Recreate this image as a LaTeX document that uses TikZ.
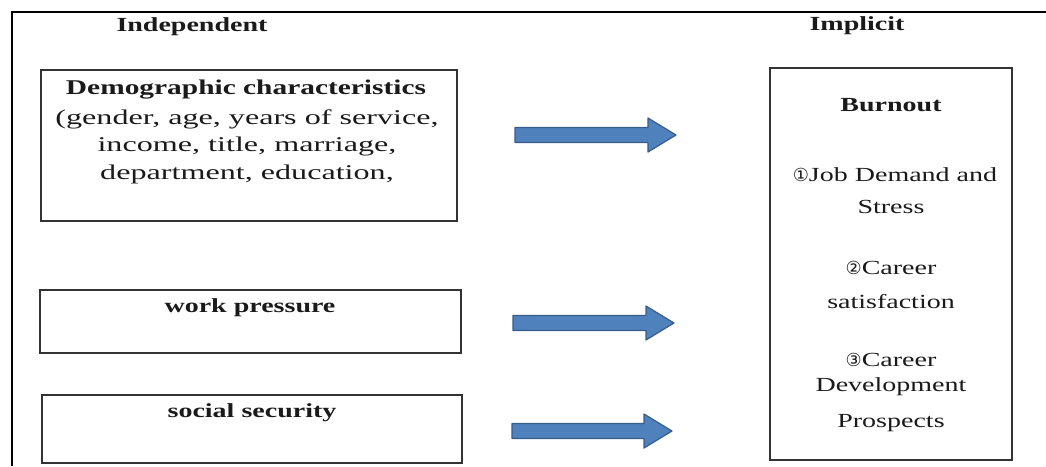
\documentclass[tikz,border=0pt]{standalone}
\usepackage{fontspec}
\setmainfont{Liberation Serif}[FakeStretch=1.4]
\newfontfamily\demofont{Liberation Serif}[FakeStretch=1.53]
\newfontfamily\circfont{DejaVu Sans}
\definecolor{arrowfill}{HTML}{4F81BD}
\definecolor{arrowline}{HTML}{385D8A}
\definecolor{boxline}{HTML}{333333}
\definecolor{ink}{HTML}{1A1A1A}
\tikzset{
  box/.style={draw=boxline, line width=1.5pt, rectangle, inner sep=0pt},
  head/.style={font=\fontsize{20}{24}\selectfont\bfseries, text=ink, inner sep=0pt},
  bodytext/.style={font=\fontsize{20}{24}\selectfont, text=ink, inner sep=0pt},
  demotext/.style={font=\demofont\fontsize{21}{27.5}\selectfont, text=ink, inner sep=0pt, align=center},
  barrow/.style={fill=arrowfill, draw=arrowline, line width=1.2pt, line join=round},
  frameline/.style={draw=black, line width=1.8pt}
}
\newcommand\blockarrow[4]{% name, x1, x2, y
  \coordinate (#1s) at (#2,#4);
  \coordinate (#1e) at (#3,#4);
  \draw[barrow] (#2,#4-7.5) -- (#3-28,#4-7.5) -- (#3-28,#4-17) -- (#1e) -- (#3-28,#4+17) -- (#3-28,#4+7.5) -- (#2,#4+7.5) -- cycle;}
\begin{document}
\begin{tikzpicture}[x=1pt,y=-1pt]
\useasboundingbox (0,0) rectangle (1046,466);
% outer frame (cropped)
\draw[frameline] (12,466) -- (12,12) -- (1046,12);
% headings
\node[head] (indep) at (192,27) {Independent};
\node[head] (impl) at (857,26) {Implicit};
% demographic box
\node[box, minimum width=416pt, minimum height=151pt] (demo) at (249,145.5) {};
\node[head, font=\fontsize{21}{24}\selectfont\bfseries] (demotitle) at (246,90) {Demographic characteristics};
\node[demotext] (demobody) at (247,146.5) {(gender, age, years of service,\\ income, title, marriage,\\ department, education,};
% work pressure
\node[box, minimum width=421pt, minimum height=63pt] (work) at (250.5,321.5) {};
\node[head] (worktext) at (250,308) {work pressure};
% social security
\node[box, minimum width=420pt, minimum height=68pt] (social) at (252,429) {};
\node[head] (socialtext) at (252,413) {social security};
% burnout box
\node[box, minimum width=242pt, minimum height=392pt] (burn) at (891,264) {};
\node[head] (burntitle) at (891,105) {Burnout};
\node[bodytext] (b1a) at (895,175) {{\circfont\fontsize{18}{20}\selectfont ①}Job Demand and};
\node[bodytext] (b1b) at (891,207) {Stress};
\node[bodytext] (b2a) at (891,268) {{\circfont\fontsize{18}{20}\selectfont ②}Career};
\node[bodytext] (b2b) at (891,302) {satisfaction};
\node[bodytext] (b3a) at (891,360) {{\circfont\fontsize{18}{20}\selectfont ③}Career};
\node[bodytext] (b3b) at (891,387) {Development};
\node[bodytext] (b3c) at (891,423) {Prospects};
% block arrows
\blockarrow{a1}{515}{676}{135}
\blockarrow{a2}{513}{674}{323}
\blockarrow{a3}{512}{672}{431}
\end{tikzpicture}
\end{document}
